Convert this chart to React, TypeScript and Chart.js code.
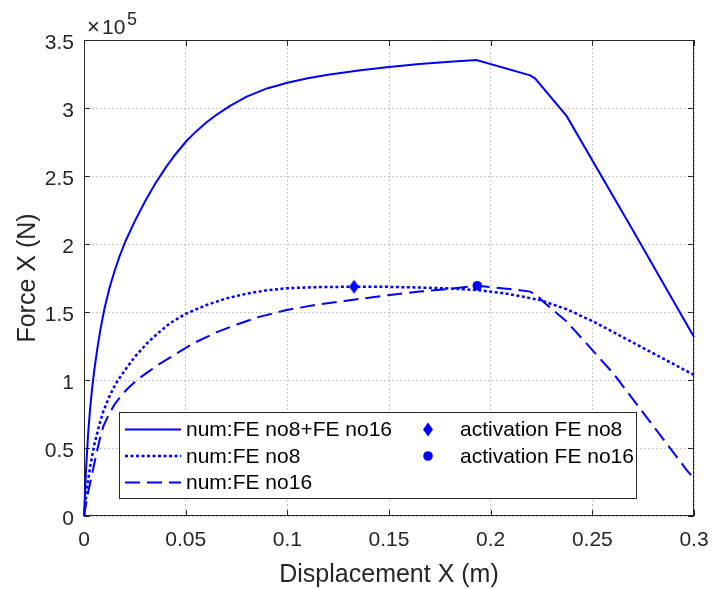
import { useEffect, useRef } from "react";
import { Chart, registerables } from "chart.js";

Chart.register(...registerables);

const FONT = '"Liberation Sans", Arial, Helvetica, sans-serif';
const BLUE = "#0000ff";
const AXIS = "#262626";

// Force values are in units of 10^5 N (the axis shows "×10^5")
const combinedX = [0, 0.001, 0.002, 0.003, 0.004, 0.005, 0.0065, 0.008, 0.01, 0.0125, 0.015, 0.0175, 0.0205, 0.025, 0.03, 0.035, 0.04, 0.045, 0.0505, 0.055, 0.06, 0.065, 0.0718, 0.08, 0.09, 0.1, 0.11, 0.12, 0.135, 0.15, 0.165, 0.18, 0.193, 0.2194, 0.2218, 0.2374, 0.27, 0.3];
const combinedF = [0, 0.34, 0.6, 0.79, 0.94, 1.065, 1.225, 1.365, 1.52, 1.675, 1.8, 1.91, 2.024, 2.168, 2.313, 2.443, 2.558, 2.66, 2.759, 2.826, 2.891, 2.948, 3.016, 3.084, 3.144, 3.186, 3.218, 3.244, 3.276, 3.302, 3.323, 3.34, 3.353, 3.24, 3.218, 2.94, 2.1, 1.316];

const no8X = [0, 0.001, 0.002, 0.003, 0.005, 0.0075, 0.0095, 0.0125, 0.0155, 0.0177, 0.021, 0.025, 0.031, 0.036, 0.0425, 0.0505, 0.06, 0.07, 0.08, 0.09, 0.1, 0.115, 0.1328, 0.1456, 0.165, 0.1783, 0.193, 0.2079, 0.2243, 0.2374, 0.2505, 0.3];
const no8F = [0, 0.14, 0.26, 0.36, 0.52, 0.67, 0.77, 0.88, 0.97, 1.02, 1.09, 1.17, 1.27, 1.34, 1.42, 1.49, 1.55, 1.6, 1.635, 1.66, 1.675, 1.683, 1.686, 1.686, 1.68, 1.674, 1.662, 1.635, 1.588, 1.52, 1.43, 1.037];

const no16X = [0, 0.001, 0.002, 0.003, 0.005, 0.0075, 0.0095, 0.012, 0.015, 0.018, 0.021, 0.026, 0.0315, 0.0374, 0.045, 0.0538, 0.065, 0.0755, 0.0866, 0.0997, 0.115, 0.13, 0.1505, 0.165, 0.1783, 0.1934, 0.2144, 0.2194, 0.2226, 0.2259, 0.2374, 0.2603, 0.2964, 0.3];
const no16F = [0, 0.09, 0.17, 0.24, 0.38, 0.55, 0.66, 0.74, 0.82, 0.88, 0.93, 1.0, 1.06, 1.12, 1.19, 1.27, 1.35, 1.41, 1.466, 1.515, 1.555, 1.585, 1.625, 1.65, 1.667, 1.693, 1.66, 1.65, 1.625, 1.576, 1.43, 1.049, 0.338, 0.275];

const activationNo8X = [0.1328];
const activationNo8F = [1.686];
const activationNo16X = [0.1934];
const activationNo16F = [1.693];

const seriesLabels = [
  "num:FE no8+FE no16",
  "num:FE no8",
  "num:FE no16",
  "activation FE no8",
  "activation FE no16",
];

const xTickValues = [0, 0.05, 0.1, 0.15, 0.2, 0.25, 0.3];
const xTickLabels = ["0", "0.05", "0.1", "0.15", "0.2", "0.25", "0.3"];
const yTickValues = [0, 0.5, 1, 1.5, 2, 2.5, 3, 3.5];
const yTickLabels = ["0", "0.5", "1", "1.5", "2", "2.5", "3", "3.5"];

const xTitle = "Displacement X (m)";
const yTitle = "Force X (N)";

const DOT = [3, 2.5];
const DASH = [15, 7];

function drawDiamond(ctx: CanvasRenderingContext2D, cx: number, cy: number, w: number, h: number) {
  ctx.beginPath();
  ctx.moveTo(cx, cy - h / 2);
  ctx.lineTo(cx + w / 2, cy);
  ctx.lineTo(cx, cy + h / 2);
  ctx.lineTo(cx - w / 2, cy);
  ctx.closePath();
  ctx.fillStyle = BLUE;
  ctx.fill();
}

const matlabPlugin = {
  id: "matlabLook",
  beforeDatasetsDraw(chart: any) {
    const { ctx, chartArea } = chart;
    const { left, right, top, bottom } = chartArea;
    ctx.save();
    ctx.strokeStyle = AXIS;
    ctx.lineWidth = 1;
    ctx.setLineDash([]);
    ctx.strokeRect(left + 0.5, top + 0.5, right - left - 1, bottom - top - 1);
    const tl = 6;
    ctx.beginPath();
    const xs = chart.scales.x;
    xTickValues.forEach((v) => {
      const p = Math.round(xs.getPixelForValue(v)) + 0.5;
      ctx.moveTo(p, bottom);
      ctx.lineTo(p, bottom - tl);
      ctx.moveTo(p, top);
      ctx.lineTo(p, top + tl);
    });
    const ys = chart.scales.y;
    yTickValues.forEach((v) => {
      const p = Math.round(ys.getPixelForValue(v)) + 0.5;
      ctx.moveTo(left, p);
      ctx.lineTo(left + tl, p);
      ctx.moveTo(right, p);
      ctx.lineTo(right - tl, p);
    });
    ctx.stroke();
    ctx.restore();
  },
  afterDraw(chart: any) {
    const { ctx, chartArea } = chart;
    ctx.save();
    // axis titles
    ctx.fillStyle = AXIS;
    ctx.font = `25px ${FONT}`;
    ctx.textAlign = "center";
    ctx.textBaseline = "alphabetic";
    ctx.fillText(xTitle, (chartArea.left + chartArea.right) / 2, 582);
    ctx.save();
    ctx.translate(35, (chartArea.top + chartArea.bottom) / 2);
    ctx.rotate(-Math.PI / 2);
    ctx.fillText(yTitle, 0, 0);
    ctx.restore();
    // exponent
    ctx.textAlign = "center";
    ctx.font = `22px ${FONT}`;
    ctx.fillText("\u00d7", 93.5, 34);
    ctx.textAlign = "left";
    ctx.font = `21px ${FONT}`;
    ctx.fillText("10", 102, 34);
    ctx.font = `18px ${FONT}`;
    ctx.fillText("5", 127, 25);

    // legend
    const bx = 119, by = 412, bw = 517, bh = 86;
    ctx.fillStyle = "#ffffff";
    ctx.fillRect(bx, by, bw, bh);
    ctx.strokeStyle = AXIS;
    ctx.lineWidth = 1;
    ctx.setLineDash([]);
    ctx.strokeRect(bx + 0.5, by + 0.5, bw, bh);
    const rows = [429.5, 456, 482.5];
    const lineStyles = [
      { w: 2, dash: [] as number[] },
      { w: 2.5, dash: DOT },
      { w: 2, dash: DASH },
    ];
    ctx.font = `21px ${FONT}`;
    ctx.textBaseline = "middle";
    for (let i = 0; i < 3; i++) {
      ctx.beginPath();
      ctx.strokeStyle = BLUE;
      ctx.lineWidth = lineStyles[i].w;
      ctx.setLineDash(lineStyles[i].dash);
      ctx.moveTo(125, rows[i]);
      ctx.lineTo(181, rows[i]);
      ctx.stroke();
      ctx.fillStyle = "#000000";
      ctx.fillText(seriesLabels[i], 186, rows[i] + 1);
    }
    ctx.setLineDash([]);
    drawDiamond(ctx, 428, rows[0], 10, 14);
    ctx.beginPath();
    ctx.arc(428, rows[1], 4.8, 0, Math.PI * 2);
    ctx.fillStyle = BLUE;
    ctx.fill();
    ctx.fillStyle = "#000000";
    ctx.fillText(seriesLabels[3], 460, rows[0] + 1);
    ctx.fillText(seriesLabels[4], 460, rows[1] + 1);
    ctx.restore();
  },
};

function noPad(s: any) {
  s.paddingLeft = 0;
  s.paddingRight = 0;
  s.paddingTop = 0;
  s.paddingBottom = 0;
}

export default function App() {
  const ref = useRef<HTMLCanvasElement | null>(null);

  useEffect(() => {
    const canvas = ref.current;
    if (!canvas) return;
    const diamond = document.createElement("canvas");
    diamond.width = 11;
    diamond.height = 15;
    const dctx = diamond.getContext("2d")!;
    drawDiamond(dctx, 5.5, 7.5, 10, 14);

    const pts = (xs: number[], fs: number[]) => xs.map((x, i) => ({ x, y: fs[i] }));

    const chart = new Chart(canvas, {
      type: "scatter",
      data: {
        datasets: [
          {
            label: seriesLabels[0],
            data: pts(combinedX, combinedF),
            showLine: true,
            borderColor: BLUE,
            borderWidth: 2,
            pointRadius: 0,
            tension: 0,
            clip: false,
          } as any,
          {
            label: seriesLabels[1],
            data: pts(no8X, no8F),
            showLine: true,
            borderColor: BLUE,
            borderWidth: 2.5,
            borderDash: DOT,
            pointRadius: 0,
            tension: 0,
            clip: false,
          },
          {
            label: seriesLabels[2],
            data: pts(no16X, no16F),
            showLine: true,
            borderColor: BLUE,
            borderWidth: 2,
            borderDash: DASH,
            pointRadius: 0,
            tension: 0,
            clip: false,
          },
          {
            label: seriesLabels[3],
            data: pts(activationNo8X, activationNo8F),
            pointStyle: diamond,
            pointRadius: 6,
            backgroundColor: BLUE,
            borderColor: BLUE,
            clip: false,
          },
          {
            label: seriesLabels[4],
            data: pts(activationNo16X, activationNo16F),
            pointStyle: "circle",
            pointRadius: 4.8,
            borderWidth: 0,
            backgroundColor: BLUE,
            borderColor: BLUE,
            clip: false,
          },
        ],
      },
      options: {
        animation: false,
        responsive: false,
        devicePixelRatio: 1,
        layout: { padding: { left: 0, top: 40, right: 18, bottom: 0 } },
        plugins: { legend: { display: false }, tooltip: { enabled: false } },
        events: [],
        scales: {
          x: {
            type: "linear",
            min: 0,
            max: 0.3,
            afterFit: (s: any) => {
              s.height = 74;
              noPad(s);
            },
            afterBuildTicks: (s: any) => {
              s.ticks = xTickValues.map((v) => ({ value: v }));
            },
            ticks: {
              autoSkip: false,
              maxRotation: 0,
              padding: 12,
              color: AXIS,
              font: { family: FONT, size: 21 },
              callback: (_v: any, i: number) => xTickLabels[i],
            },
            grid: { color: "#b8b8b8", lineWidth: 1, drawTicks: false },
            border: { display: false, dash: [1.5, 2.5] },
          },
          y: {
            type: "linear",
            min: 0,
            max: 3.5,
            afterFit: (s: any) => {
              s.width = 84;
              noPad(s);
            },
            afterBuildTicks: (s: any) => {
              s.ticks = yTickValues.map((v) => ({ value: v }));
            },
            ticks: {
              autoSkip: false,
              padding: 10,
              labelOffset: 3,
              color: AXIS,
              font: { family: FONT, size: 21 },
              callback: (_v: any, i: number) => yTickLabels[i],
            },
            grid: { color: "#b8b8b8", lineWidth: 1, drawTicks: false },
            border: { display: false, dash: [1.5, 2.5] },
          },
        },
      },
      plugins: [matlabPlugin],
    });
    return () => chart.destroy();
  }, []);

  return (
    <div style={{ position: "fixed", left: 0, top: 0, width: 712, height: 590, background: "#fff" }}>
      <canvas ref={ref} width={712} height={590} style={{ width: 712, height: 590, display: "block" }} />
    </div>
  );
}
